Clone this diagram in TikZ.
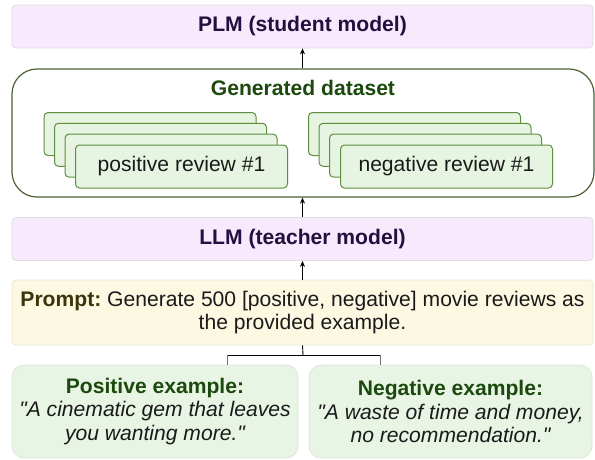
\documentclass[tikz,border=0pt]{standalone}
\usepackage{fontspec}
\setmainfont{Liberation Sans}[Ligatures=TeXOff]
\usetikzlibrary{arrows.meta}
\definecolor{lmfill}{HTML}{F6EAFC}
\definecolor{lmborder}{HTML}{E2DAE6}
\definecolor{lmtext}{HTML}{24103F}
\definecolor{dsborder}{HTML}{4A6136}
\definecolor{dstext}{HTML}{1C4A0E}
\definecolor{cardfill}{HTML}{E6F4E1}
\definecolor{cardborder}{HTML}{5E8F40}
\definecolor{prfill}{HTML}{FDF8E2}
\definecolor{prborder}{HTML}{ECE8D6}
\definecolor{prtext}{HTML}{3A360A}
\definecolor{exfill}{HTML}{E8F5E5}
\definecolor{exborder}{HTML}{DCE6D9}
\definecolor{bodytext}{HTML}{1A1A1A}
\begin{document}
\begin{tikzpicture}[x=1pt,y=-1pt,
  every node/.style={font=\fontsize{21.1}{23.5}\selectfont, text=bodytext, inner sep=0pt},
  lmbox/.style={draw=lmborder, fill=lmfill, line width=0.8pt, rounded corners=4pt,
    minimum width=581pt, minimum height=43pt, font=\fontsize{21.1}{23.5}\selectfont\bfseries, text=lmtext},
  card/.style={draw=cardborder, fill=cardfill, line width=1pt, rounded corners=4pt,
    minimum width=212pt, minimum height=43pt},
  exbox/.style={draw=exborder, fill=exfill, line width=0.8pt, rounded corners=12pt,
    minimum height=93pt, align=center},
  arr/.style={-{Stealth[length=6pt,width=5pt]}, line width=0.9pt, black},
  link/.style={line width=0.9pt}
]
\useasboundingbox (0,0) rectangle (595,459);

% PLM
\node[lmbox] (plm) at (302.5,26.5) {PLM (student model)};

% Generated dataset
\node[draw=dsborder, line width=1.2pt, rounded corners=25pt, fill=white,
  minimum width=582pt, minimum height=128pt] (ds) at (303,133) {};
\node[font=\fontsize{21.1}{23.5}\selectfont\bfseries, text=dstext] (dstitle) at (303,88) {Generated dataset};

% left stack
\node[card] (pa) at (150,134) {};
\node[card] (pb) at (160.5,144.8) {};
\node[card] (pc) at (171,155.6) {};
\node[card] (pd) at (181.5,166.5) {\raisebox{-2pt}{positive review \#1}};
% right stack
\node[card] (na) at (414.5,134) {};
\node[card] (nb) at (425,144.8) {};
\node[card] (nc) at (435.5,155.6) {};
\node[card] (nd) at (446.5,166.5) {\raisebox{-2pt}{negative review \#1}};

% LLM
\node[lmbox] (llm) at (302.5,239) {LLM (teacher model)};

% Prompt
\node[draw=prborder, fill=prfill, line width=0.8pt, rounded corners=4pt,
  minimum width=581pt, minimum height=65pt, align=center] (prompt) at (302.5,312.5)
  {{\bfseries\color{prtext}Prompt:}~Generate 500 [positive, negative] movie reviews as\\the provided example.};

% Examples
\node[exbox, minimum width=286pt] (pos) at (155,411.5)
  {{\bfseries\color{dstext}Positive example:}\\\itshape "A cinematic gem that leaves\\\itshape you wanting more."};
\node[exbox, minimum width=283pt] (neg) at (450.5,411.5)
  {{\bfseries\color{dstext}Negative example:}\\\itshape "A waste of time and money,\\\itshape no recommendation."};

% arrows
\draw[arr] (ds.north -| plm.south) -- (plm.south);
\draw[arr] (llm.north) -- (llm.north |- ds.south);
\draw[arr] (prompt.north) -- (llm.south);

% branch connector
\coordinate (jc) at (303,355);
\coordinate (jl) at (227,355);
\coordinate (jr) at (380,355);
\draw[link] (prompt.south) -- (jc);
\draw[link] (jl) -- (jr);
\draw[link, draw=black!55] (jl) -- (jl |- pos.north);
\draw[link, draw=black!55] (jr) -- (jr |- neg.north);
\end{tikzpicture}
\end{document}
